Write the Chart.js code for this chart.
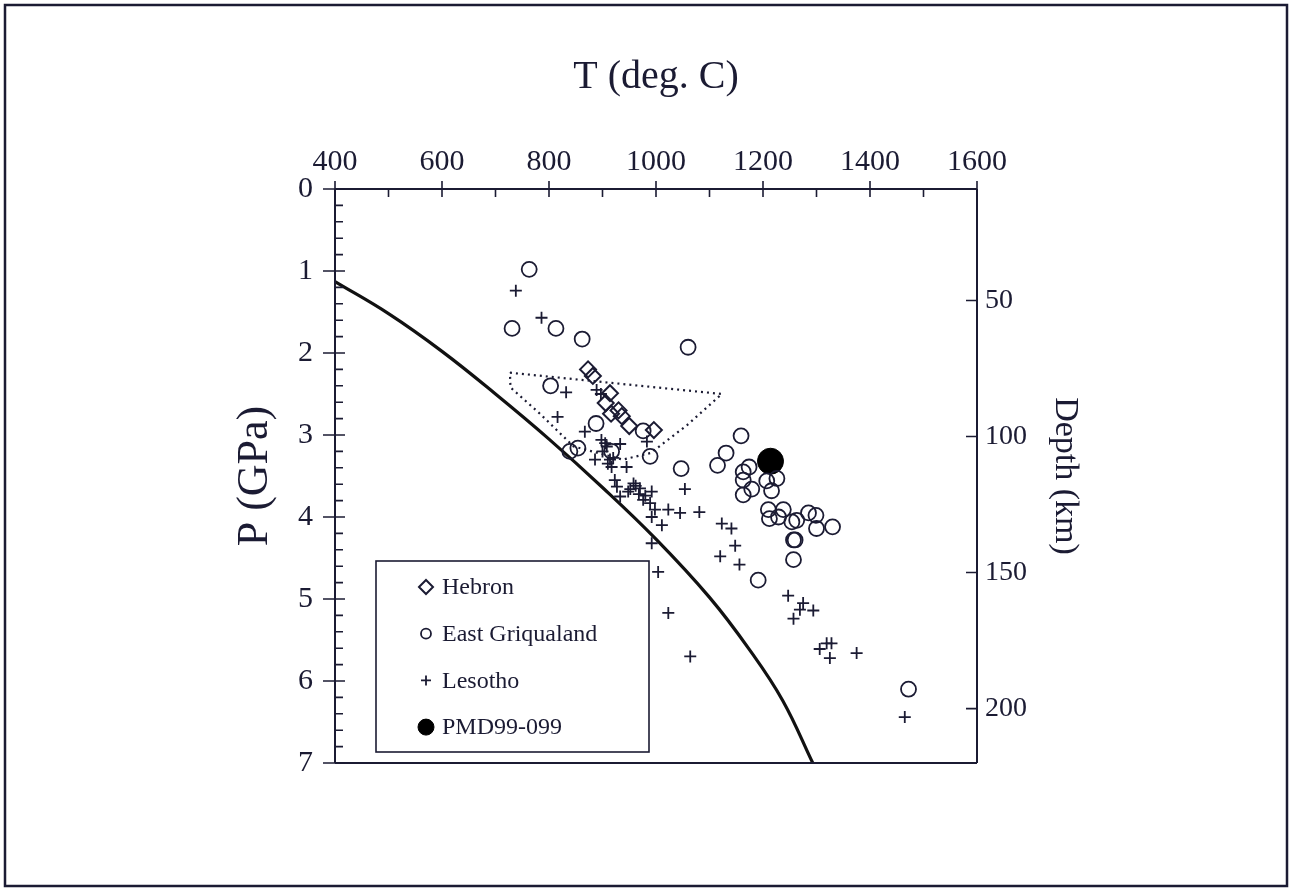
<!DOCTYPE html>
<html>
<head>
<meta charset="utf-8">
<script src="https://cdn.jsdelivr.net/npm/chart.js@4.4.1/dist/chart.umd.min.js"></script>
<style>
  html, body { margin: 0; padding: 0; background: #fff; }
  #wrap { width: 1292px; height: 893px; }
</style>
</head>
<body>
<div id="wrap"><canvas id="myChart" width="1292" height="893"></canvas></div>
<script>
const INK = '#1b1b33';
const FONT = '"Liberation Serif", "Times New Roman", serif';

// Hebron (diamonds)
const hebronT = [873, 882, 914, 906, 916, 930, 936, 950, 996];
const hebronP = [2.20, 2.28, 2.49, 2.61, 2.74, 2.70, 2.77, 2.89, 2.94];

// East Griqualand (circles)
const egT = [763, 731, 813, 862, 1060, 803, 888, 976, 989, 839, 854, 917, 1047, 1159, 1131, 1115,
  1174, 1163, 1163, 1179, 1163, 1207, 1226, 1216, 1210, 1212, 1238, 1229, 1254, 1263, 1285, 1299,
  1300, 1330, 1257, 1260, 1257, 1191, 1472];
const egP = [0.98, 1.70, 1.70, 1.83, 1.93, 2.40, 2.86, 2.95, 3.26, 3.20, 3.16, 3.20, 3.41, 3.01, 3.22, 3.37,
  3.39, 3.45, 3.55, 3.66, 3.73, 3.56, 3.53, 3.68, 3.91, 4.02, 3.91, 4.00, 4.06, 4.04, 3.95, 3.98,
  4.14, 4.12, 4.28, 4.28, 4.52, 4.77, 6.10];

// Lesotho (crosses)
const lesT = [738, 786, 832, 816, 867, 897, 889, 983, 1054, 898, 908, 933, 886, 917, 945, 923, 927,
  905, 914, 900, 910, 920, 958, 970, 962, 968, 952, 980, 933, 948, 976, 992, 989, 998, 992, 1011,
  1023, 1045, 1081, 992, 1123, 1141, 1148, 1120, 1156, 1004, 1023, 1064,
  1247, 1275, 1294, 1269, 1257, 1319, 1328, 1306, 1325, 1375, 1465];
const lesP = [1.24, 1.57, 2.48, 2.78, 2.96, 2.50, 2.45, 3.08, 3.66, 3.06, 3.14, 3.11, 3.30, 3.39, 3.39, 3.55, 3.63,
  3.10, 3.30, 3.20, 3.35, 3.28, 3.59, 3.65, 3.62, 3.72, 3.66, 3.74, 3.75, 3.69, 3.79, 3.69, 3.83, 3.91, 4.00, 4.10,
  3.91, 3.95, 3.94, 4.32, 4.08, 4.14, 4.35, 4.48, 4.58, 4.67, 5.17, 5.70,
  4.96, 5.05, 5.14, 5.13, 5.24, 5.54, 5.54, 5.61, 5.72, 5.66, 6.44];

// PMD99-099
const pmdT = [1214];
const pmdP = [3.32];

// solid curve
const curveT = [400, 500, 600, 700, 800, 900, 1000, 1100, 1175, 1237, 1293];
const curveP = [1.13, 1.52, 1.98, 2.50, 3.05, 3.64, 4.27, 4.98, 5.62, 6.24, 7.00];

// dotted field outline
const hullT = [727, 1123, 1058, 990, 938, 846, 783, 728, 727];
const hullP = [2.24, 2.50, 2.88, 3.22, 3.30, 3.14, 2.74, 2.42, 2.24];

const xTicks = [400, 600, 800, 1000, 1200, 1400, 1600];
const depthTicks = [50, 100, 150, 200];

const pts = (xs, ys) => xs.map((v, i) => ({ x: v, y: ys[i] }));

// DATA
const data = {
  datasets: [
    {
      label: 'Hebron', data: pts(hebronT, hebronP), pointStyle: 'rectRot',
      pointRadius: 8, borderColor: INK, backgroundColor: 'rgba(0,0,0,0)', pointBorderWidth: 2,
      legendRadius: 7,
    },
    {
      label: 'East Griqualand', data: pts(egT, egP), pointStyle: 'circle',
      pointRadius: 7.5, borderColor: INK, backgroundColor: 'rgba(0,0,0,0)', pointBorderWidth: 1.8,
      legendRadius: 5,
    },
    {
      label: 'Lesotho', data: pts(lesT, lesP), pointStyle: 'cross',
      pointRadius: 6, borderColor: INK, backgroundColor: INK, pointBorderWidth: 1.8,
      legendRadius: 5,
    },
    {
      label: 'PMD99-099', data: pts(pmdT, pmdP), pointStyle: 'circle',
      pointRadius: 13, borderColor: '#000', backgroundColor: '#000', pointBorderWidth: 1,
      legendRadius: 8,
    },
    {
      label: 'curve', data: pts(curveT, curveP), showLine: true, pointRadius: 0,
      borderColor: '#111', borderWidth: 3.2, tension: 0.4, noLegend: true,
    },
    {
      label: 'field', data: pts(hullT, hullP), showLine: true, pointRadius: 0,
      borderColor: INK, borderWidth: 2.2, borderDash: [2, 4], noLegend: true,
    },
  ]
};

// axes lines, tick marks, outer frame
const axesPlugin = {
  id: 'axesPlugin',
  afterDraw(chart) {
    const { ctx, chartArea: a, scales: { x, y, y2 } } = chart;
    ctx.save();
    ctx.strokeStyle = INK;
    ctx.lineWidth = 2;
    ctx.beginPath();
    ctx.moveTo(a.left, a.top); ctx.lineTo(a.right, a.top);
    ctx.moveTo(a.left, a.top); ctx.lineTo(a.left, a.bottom);
    ctx.moveTo(a.right, a.top); ctx.lineTo(a.right, a.bottom);
    ctx.moveTo(a.left, a.bottom); ctx.lineTo(a.right, a.bottom);
    ctx.stroke();

    ctx.lineWidth = 1.6;
    ctx.beginPath();
    for (let t = 400; t <= 1600; t += 100) {
      const px = x.getPixelForValue(t);
      const major = t % 200 === 0;
      ctx.moveTo(px, major ? a.top - 8 : a.top);
      ctx.lineTo(px, a.top + 8);
    }
    for (let i = 0; i <= 35; i++) {
      const py = y.getPixelForValue(i / 5);
      const major = i % 5 === 0;
      ctx.moveTo(major ? a.left - 12 : a.left, py);
      ctx.lineTo(a.left + (major ? 10 : 8), py);
    }
    depthTicks.forEach(d => {
      const py = y2.getPixelForValue(d);
      ctx.moveTo(a.right - 11, py);
      ctx.lineTo(a.right, py);
    });
    ctx.stroke();

    ctx.lineWidth = 2.5;
    ctx.strokeRect(5, 5, 1282, 881);
    ctx.restore();
  }
};

// legend box inside the plot
const legendPlugin = {
  id: 'legendBox',
  afterDraw(chart) {
    const { ctx, chartArea: a } = chart;
    const left = a.left + 41, top = a.bottom - 202, w = 273, h = 191;
    ctx.save();
    ctx.fillStyle = '#fff';
    ctx.fillRect(left, top, w, h);
    ctx.strokeStyle = INK;
    ctx.lineWidth = 1.6;
    ctx.strokeRect(left, top, w, h);
    ctx.font = '24px ' + FONT;
    ctx.textBaseline = 'middle';
    ctx.textAlign = 'left';
    const items = chart.data.datasets.filter(ds => !ds.noLegend);
    items.forEach((ds, i) => {
      const cy = top + 26 + i * 46.7;
      ctx.strokeStyle = ds.borderColor;
      ctx.fillStyle = ds.backgroundColor;
      ctx.lineWidth = ds.pointBorderWidth;
      Chart.helpers.drawPoint(ctx, { pointStyle: ds.pointStyle, radius: ds.legendRadius, borderWidth: ds.pointBorderWidth, rotation: 0 }, left + 50, cy);
      ctx.fillStyle = INK;
      ctx.fillText(ds.label, left + 66, cy + 1);
    });
    ctx.restore();
  }
};

const plain = v => String(v);

// CONFIG
const config = {
  type: 'scatter',
  data,
  options: {
    responsive: false,
    animation: false,
    layout: { padding: { top: 0, left: 0, right: 0, bottom: 130 } },
    plugins: { legend: { display: false }, tooltip: { enabled: false } },
    scales: {
      x: {
        type: 'linear', position: 'top', min: 400, max: 1600,
        afterBuildTicks: s => { s.ticks = xTicks.map(v => ({ value: v })); },
        ticks: { padding: 9, color: INK, font: { family: FONT, size: 30 }, callback: plain },
        grid: { display: false, drawTicks: false },
        border: { display: false },
        title: { display: true, text: 'T (deg. C)', color: INK, font: { family: FONT, size: 40 }, padding: { top: 53, bottom: 0 } },
        afterFit: s => { s.height = 189; },
      },
      y: {
        type: 'linear', position: 'left', min: 0, max: 7, reverse: true,
        ticks: { stepSize: 1, padding: 22, color: INK, font: { family: FONT, size: 30 }, callback: plain },
        grid: { display: false, drawTicks: false },
        border: { display: false },
        title: { display: true, text: 'P (GPa)', color: INK, font: { family: FONT, size: 44 }, padding: { top: 229, bottom: 0 } },
        afterFit: s => { s.width = 335; },
      },
      y2: {
        type: 'linear', position: 'right', min: 9, max: 220, reverse: true,
        afterBuildTicks: s => { s.ticks = depthTicks.map(v => ({ value: v })); },
        ticks: { padding: 8, color: INK, font: { family: FONT, size: 28 }, callback: plain },
        grid: { display: false, drawTicks: false },
        border: { display: false },
        title: { display: true, text: 'Depth (km)', color: INK, font: { family: FONT, size: 34 }, padding: { top: 207, bottom: 0 } },
        afterFit: s => { s.width = 315; },
      },
    }
  },
  plugins: [axesPlugin, legendPlugin]
};

// CHART
var myChart = new Chart(document.getElementById('myChart'), config);
</script>
</body>
</html>
